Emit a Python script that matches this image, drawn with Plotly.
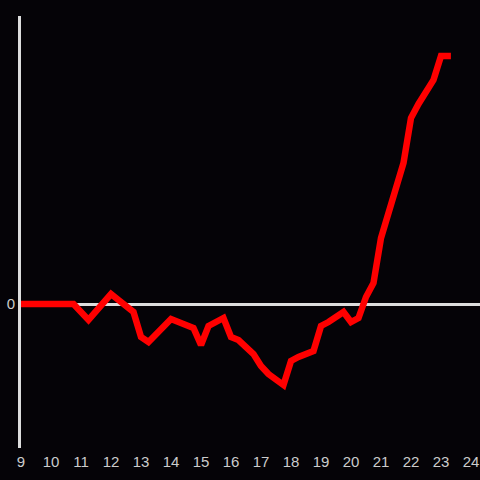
import plotly.graph_objects as go

hours = [9, 10.75, 11.25, 12, 12.25, 12.75, 13, 13.25, 14, 14.75, 15, 15.25, 15.75,
         16, 16.25, 16.75, 17, 17.25, 17.75, 18, 18.25, 18.75, 19, 19.25, 19.75,
         20, 20.25, 20.5, 20.75, 21, 21.25, 21.75, 22, 22.25, 22.75, 23, 23.33]
values = [0, 0, -16, 10, 4, -8, -33, -38, -15, -24, -41, -22, -14,
          -33, -36, -50, -62, -70, -81, -57, -53, -47, -22, -18, -8,
          -18, -14, 7, 21, 66, 91, 141, 186, 200, 224, 248, 248]

x_ticks = list(range(9, 25))

fig = go.Figure()
fig.add_trace(go.Scatter(x=hours, y=values, mode="lines",
                         line=dict(color="#ff0000", width=6.5), hoverinfo="skip"))

fig.update_layout(
    width=480, height=480,
    margin=dict(l=21, r=0, t=16, b=32),
    paper_bgcolor="#050307", plot_bgcolor="#050307",
    showlegend=False,
    font=dict(family="Liberation Sans, Arial, sans-serif", size=15, color="#cccccc"),
    xaxis=dict(range=[9, 24.3], tickvals=x_ticks, ticktext=[str(t) for t in x_ticks],
               showgrid=False, zeroline=False, showline=False, ticks="",
               ticklabelstandoff=3, automargin=False),
    yaxis=dict(range=[-144, 288], tickvals=[0], ticktext=["0"], showgrid=False,
               zeroline=True, zerolinecolor="#dddddd", zerolinewidth=3,
               showline=True, linecolor="#dddddd", linewidth=3, ticks="",
               automargin=False),
)

fig.write_html(
    "out.html",
    config={"displayModeBar": False},
    post_script="document.body.style.margin='0';document.body.style.overflow='hidden';"
                "document.body.style.background='#050307';",
)
